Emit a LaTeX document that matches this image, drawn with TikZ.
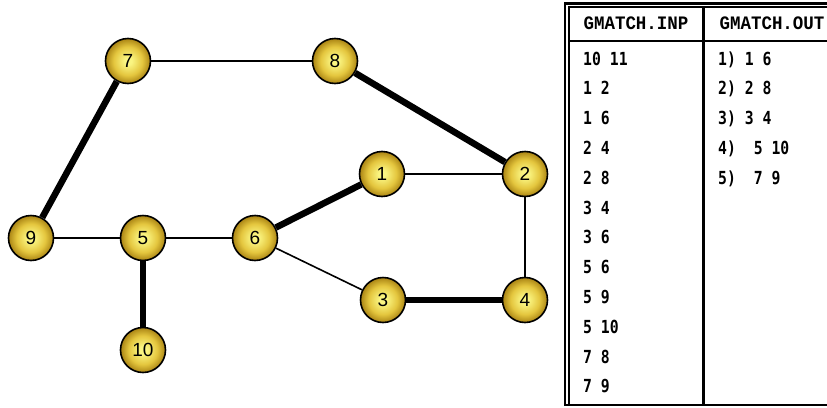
\documentclass[tikz,border=0pt]{standalone}
\usepackage{fontspec}
\setmainfont{Liberation Sans}
\newfontfamily\hdrfont[FakeStretch=0.92]{Liberation Mono}
\newfontfamily\bodyfont[FakeStretch=0.82]{DejaVu Sans Mono}
\definecolor{vin}{RGB}{250,245,130}
\definecolor{vmid}{RGB}{228,198,62}
\definecolor{vout}{RGB}{170,132,20}
\pgfdeclareradialshading{vball}{\pgfpoint{0bp}{0bp}}{color(0bp)=(vin); color(4bp)=(vin); color(16bp)=(vmid); color(25bp)=(vout); color(50bp)=(vout)}
\begin{document}
\begin{tikzpicture}[x=1pt,y=-1pt,
  vert/.style={circle, draw=black, line width=1.6pt, minimum size=45pt, inner sep=0pt,
    shading=vball, font=\fontsize{19}{19}\selectfont},
  thinedge/.style={line width=1.6pt},
  thickedge/.style={line width=6.5pt},
  hdr/.style={anchor=base, inner sep=0pt, font=\hdrfont\bfseries\fontsize{19}{19}\selectfont},
  cell/.style={anchor=base west, inner sep=0pt, font=\bodyfont\bfseries\fontsize{18}{18}\selectfont},
  frameline/.style={line width=2.5pt},
  innerline/.style={line width=1.2pt}]
\useasboundingbox (0,0) rectangle (827,407);
% vertices
\node[vert] (n7) at (128,61) {7};
\node[vert] (n8) at (335,61) {8};
\node[vert] (n1) at (382,174) {1};
\node[vert] (n2) at (525,174) {2};
\node[vert] (n9) at (31,238) {9};
\node[vert] (n5) at (143,238) {5};
\node[vert] (n6) at (255,238) {6};
\node[vert] (n3) at (383,300) {3};
\node[vert] (n4) at (525,300) {4};
\node[vert] (n10) at (143,350) {10};
% edges
\draw[thinedge] (n7) -- (n8);
\draw[thinedge] (n1) -- (n2);
\draw[thinedge] (n2) -- (n4);
\draw[thinedge] (n9) -- (n5);
\draw[thinedge] (n5) -- (n6);
\draw[thinedge] (n6) -- (n3);
\draw[thickedge] (n8) -- (n2);
\draw[thickedge] (n6) -- (n1);
\draw[thickedge] (n3) -- (n4);
\draw[thickedge] (n5) -- (n10);
\draw[thickedge] (n7) -- (n9);
% table frame
\draw[frameline] (565,404.5) -- (565,3.5) -- (827,3.5);
\draw[innerline] (569,404.5) -- (569,7) -- (827,7);
\draw[line width=2pt] (569,40.5) -- (827,40.5);
\draw[line width=3.5pt] (703.5,7) -- (703.5,405.5);
\draw[frameline] (564,404.8) -- (827,404.8);
% headers
\node[hdr] (hin) at (636,29) {GMATCH.INP};
\node[hdr] (hout) at (772,29) {GMATCH.OUT};
% input column
\node[cell] (i1) at (583,65) {10 11};
\node[cell] (i2) at (583,94.8) {1 2};
\node[cell] (i3) at (583,124.6) {1 6};
\node[cell] (i4) at (583,154.4) {2 4};
\node[cell] (i5) at (583,184.2) {2 8};
\node[cell] (i6) at (583,214) {3 4};
\node[cell] (i7) at (583,243.8) {3 6};
\node[cell] (i8) at (583,273.6) {5 6};
\node[cell] (i9) at (583,303.4) {5 9};
\node[cell] (i10) at (583,333.2) {5 10};
\node[cell] (i11) at (583,363) {7 8};
\node[cell] (i12) at (583,392.8) {7 9};
% output column
\node[cell] (o1) at (718,65) {1) 1 6};
\node[cell] (o2) at (718,94.8) {2) 2 8};
\node[cell] (o3) at (718,124.6) {3) 3 4};
\node[cell] (o4) at (718,154.4) {4)\ \ 5 10};
\node[cell] (o5) at (718,184.2) {5)\ \ 7 9};
\end{tikzpicture}
\end{document}
